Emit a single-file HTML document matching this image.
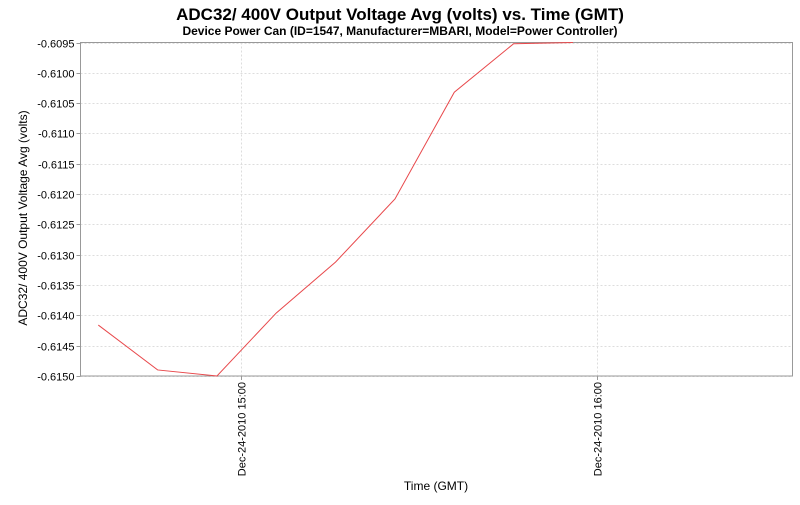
<!DOCTYPE html>
<html><head><meta charset="utf-8"><style>
body{margin:0;background:#fff;font-family:"Liberation Sans",sans-serif}
svg text{font-family:"Liberation Sans",sans-serif}
</style></head><body>
<svg width="800" height="500" xmlns="http://www.w3.org/2000/svg">
<text x="400" y="20" text-anchor="middle" font-size="17" font-weight="bold">ADC32/ 400V Output Voltage Avg (volts) vs. Time (GMT)</text>
<text x="400" y="35" text-anchor="middle" font-size="12" font-weight="bold">Device Power Can (ID=1547, Manufacturer=MBARI, Model=Power Controller)</text>
<g id="grid"></g>
<rect x="80.5" y="42.5" width="712" height="333.5" fill="none" stroke="#999"/>
<g id="yt"></g><g id="xt"></g>
<polyline id="line" fill="none" stroke="#e8484b" stroke-width="1"/>
<text transform="translate(27,218) rotate(-90)" text-anchor="middle" font-size="12">ADC32/ 400V Output Voltage Avg (volts)</text>
<text x="436" y="490" text-anchor="middle" font-size="12">Time (GMT)</text>
</svg>
<script>
const times=[-24,-14,-4,6,16,26,36,46,56];
const values=[-0.61416,-0.61490,-0.61500,-0.61396,-0.61312,-0.61208,-0.61032,-0.60952,-0.60950];
const yTicks=[-0.6150,-0.6145,-0.6140,-0.6135,-0.6130,-0.6125,-0.6120,-0.6115,-0.6110,-0.6105,-0.6100,-0.6095];
const xTickMins=[0,60];
const xTickLabels=["Dec-24-2010 15:00","Dec-24-2010 16:00"];
const L=80.5,R=792.5,T=42.5,B=376;
const xs=m=>L+(m+27)/120*(R-L);
const ys=v=>B-(v+0.6150)/0.0055*(B-T);
const NS="http://www.w3.org/2000/svg";
const grid=document.getElementById('grid'),yt=document.getElementById('yt'),xt=document.getElementById('xt');
function mk(tag,attrs,parent){const e=document.createElementNS(NS,tag);for(const k in attrs)e.setAttribute(k,attrs[k]);parent.appendChild(e);return e;}
yTicks.forEach(v=>{const y=Math.round(ys(v))+0.5;
 const g=mk('line',{x1:L,x2:R,y1:y,y2:y,stroke:'#ddd','stroke-dasharray':'2,2'},grid);
 
 
 mk('line',{x1:L-4,x2:L,y1:y,y2:y,stroke:'#999'},yt);
 const t=mk('text',{x:L-6,y:y+4,'text-anchor':'end','font-size':'11'},yt);t.textContent=v.toFixed(4);
 
 
});
xTickMins.forEach((m,i)=>{const x=Math.round(xs(m))+0.5;
 const g=mk('line',{x1:x,x2:x,y1:T,y2:B,stroke:'#ddd','stroke-dasharray':'2,2'},grid);
 
 
 mk('line',{x1:x,x2:x,y1:B,y2:B+4,stroke:'#999'},xt);
 const t=mk('text',{transform:`translate(${x+4},${B+6}) rotate(-90)`,'text-anchor':'end','font-size':'11'},xt);t.textContent=xTickLabels[i];
 
 
});
document.getElementById('line').setAttribute('points',times.map((m,i)=>xs(m)+','+ys(values[i])).join(' '));
</script>
</body></html>
